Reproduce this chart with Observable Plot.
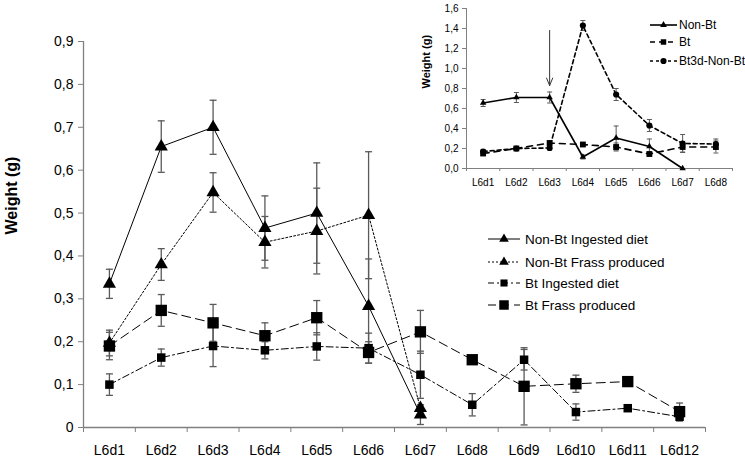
<!DOCTYPE html>
<html><head><meta charset="utf-8">
<script src="https://cdn.jsdelivr.net/npm/d3@7"></script>
<script src="https://cdn.jsdelivr.net/npm/@observablehq/plot@0.6"></script>
<style>
body{margin:0;background:#fff;font-family:"Liberation Sans",Arial,sans-serif;}
#wrap{position:relative;width:745px;height:458px;overflow:hidden;background:#fff;}
#wrap svg{position:absolute;}
</style></head><body><div id="wrap"></div>
<script>
// ---------- main chart data ----------
const days = ["L6d1","L6d2","L6d3","L6d4","L6d5","L6d6","L6d7","L6d8","L6d9","L6d10","L6d11","L6d12"];
const yTickValues = [0,0.1,0.2,0.3,0.4,0.5,0.6,0.7,0.8,0.9];
const nonBtIngested    = [0.335,0.655,0.700,0.465,0.500,0.283,0.030];
const nonBtIngestedErr = [0.034,0.060,0.063,0.075,0.117,0.110,0.023];
const nonBtFrass       = [0.197,0.380,0.548,0.432,0.458,0.495,0.045];
const nonBtFrassErr    = [0.030,0.037,0.046,0.060,0.100,0.148,0.008];
const btIngested       = [0.100,0.163,0.190,0.180,0.189,0.185,0.123,0.053,0.158,0.036,0.045,0.025];
const btIngestedErr    = [0.025,0.020,0.048,0.020,0.032,0.035,0.055,0.026,0.024,0.019,0.004,0.010];
const btFrass          = [0.190,0.273,0.244,0.214,0.256,0.175,0.223,0.158,0.096,0.102,0.107,0.037];
const btFrassErr       = [0.032,0.037,0.043,0.030,0.040,0.025,0.050,0.010,0.090,0.020,0.004,0.020];
const legendLabels = ["Non-Bt Ingested diet","Non-Bt Frass produced","Bt Ingested diet","Bt Frass produced"];
const yTitle = "Weight (g)";

// ---------- inset data ----------
const insetDays = ["L6d1","L6d2","L6d3","L6d4","L6d5","L6d6","L6d7","L6d8"];
const insetYTicks = [0,0.2,0.4,0.6,0.8,1.0,1.2,1.4,1.6];
const insetNonBt    = [0.655,0.710,0.710,0.115,0.305,0.220,0.000];
const insetNonBtErr = [0.035,0.050,0.055,0.020,0.120,0.075,0.000];
const insetBt       = [0.150,0.200,0.255,0.240,0.215,0.145,0.215,0.215];
const insetBtErr    = [0.020,0.015,0.020,0.020,0.040,0.020,0.050,0.060];
const insetBt3d     = [0.170,0.200,0.205,1.430,0.740,0.430,0.250,0.245];
const insetBt3dErr  = [0.020,0.015,0.020,0.050,0.060,0.060,0.090,0.050];
const insetLegendLabels = ["Non-Bt","Bt","Bt3d-Non-Bt"];
const insetArrow = [{day:"L6d3", from:1.38, to:0.83}];

// ---------- helpers ----------
const comma = d => d3.format(".1f")(d).replace(".", ",");
const fmtMain = d => d === 0 ? "0" : comma(d);
function recs(cats, values, errs){ return values.map((v,i)=>({x:i+1, day:cats[i], v, e:errs[i]})); }
function capSymbol(w){ return {draw(ctx){ ctx.moveTo(-w,0); ctx.lineTo(w,0); }}; }
const GRAY = "#808080", ERR = "#5a5a5a";

function seriesMarks(s, cap, errW){
  const ends = s.data.filter(d=>d.e>0).flatMap(d=>[{x:d.x, y:d.v-d.e},{x:d.x, y:d.v+d.e}]);
  return {
    err: [
      Plot.ruleX(s.data.filter(d=>d.e>0), {x:"x", y1:d=>d.v-d.e, y2:d=>d.v+d.e, stroke:ERR, strokeWidth:errW}),
      Plot.dot(ends, {x:"x", y:"y", symbol:cap, fill:"none", stroke:ERR, strokeWidth:errW})
    ],
    line: Plot.line(s.data, {x:"x", y:"v", stroke:"#000", strokeWidth:s.w, strokeDasharray:s.dash}),
    dot: Plot.dot(s.data, {x:"x", y:"v", symbol:s.symbol, r:s.r, fill:"#000", stroke:"none"})
  };
}

// ---------- main chart ----------
const mainSeries = [
  {data:recs(days, nonBtIngested, nonBtIngestedErr), symbol:"triangle", r:4.9, dash:null, w:1},
  {data:recs(days, nonBtFrass, nonBtFrassErr), symbol:"triangle", r:4.9, dash:"2,2", w:1},
  {data:recs(days, btIngested, btIngestedErr), symbol:"square", r:4.8, dash:"7,3,2,3", w:1},
  {data:recs(days, btFrass, btFrassErr), symbol:"square", r:6.4, dash:"9,5", w:1}
];
const mm = mainSeries.map(s=>seriesMarks(s, capSymbol(3.5), 1.3));

const main = Plot.plot({
  width:745, height:458,
  marginLeft:83, marginRight:40, marginTop:41, marginBottom:31,
  style:{fontFamily:"Liberation Sans, Arial, sans-serif", background:"transparent", color:"#000"},
  x:{type:"linear", domain:[0.5, 12.5]},
  y:{domain:[0,0.9]},
  marks:[
    Plot.axisY({ticks:yTickValues, tickFormat:fmtMain, tickSize:5, tickPadding:5, fontSize:14, stroke:GRAY, label:null}),
    Plot.axisX({ticks:d3.range(1,13), tickFormat:i=>days[i-1], tickSize:0, tickPadding:18, fontSize:14, label:null}),
    Plot.axisX({ticks:d3.range(0.5,13,1), tickFormat:()=>"", tickSize:5, stroke:GRAY, label:null}),
    Plot.ruleY([0], {stroke:GRAY, strokeWidth:1.3}),
    Plot.ruleX([0.5], {stroke:GRAY, strokeWidth:1.3}),
    Plot.text([yTitle], {frameAnchor:"left", text:d=>d, rotate:-90, dx:-72, fontSize:16, fontWeight:"bold"}),
    ...mm.flatMap(m=>m.err),
    ...mm.map(m=>m.line),
    ...mm.map(m=>m.dot)
  ]
});
main.style.left = "0px"; main.style.top = "0px";
document.getElementById("wrap").appendChild(main);

// ---------- inset chart ----------
const insetSeries = [
  {data:recs(insetDays, insetNonBt, insetNonBtErr), symbol:"triangle", r:2.4, dash:null, w:1.6},
  {data:recs(insetDays, insetBt, insetBtErr), symbol:"square", r:3.3, dash:"6,5", w:1.6},
  {data:recs(insetDays, insetBt3d, insetBt3dErr), symbol:"circle", r:3.1, dash:"4,3", w:1.6}
];
const im = insetSeries.map(s=>seriesMarks(s, capSymbol(2.5), 1));
const arrowData = insetArrow.map(a=>({x:insetDays.indexOf(a.day)+1, y1:a.from, y2:a.to}));

const inset = Plot.plot({
  width:335, height:195,
  marginLeft:56, marginRight:13, marginTop:8, marginBottom:27,
  style:{fontFamily:"Liberation Sans, Arial, sans-serif", background:"#fff", color:"#000"},
  x:{type:"linear", domain:[0.5, 8.5]},
  y:{domain:[0,1.6]},
  marks:[
    Plot.axisY({ticks:insetYTicks, tickFormat:comma, tickSize:4, tickPadding:4, fontSize:10, stroke:GRAY, label:null}),
    Plot.axisX({ticks:d3.range(1,9), tickFormat:i=>insetDays[i-1], tickSize:0, tickPadding:10, fontSize:10, label:null}),
    Plot.axisX({ticks:d3.range(0.5,9,1), tickFormat:()=>"", tickSize:3, stroke:GRAY, label:null}),
    Plot.ruleY([0], {stroke:GRAY}),
    Plot.ruleX([0.5], {stroke:GRAY}),
    Plot.text([yTitle], {frameAnchor:"left", text:d=>d, rotate:-90, dx:-40, fontSize:11, fontWeight:"bold"}),
    ...im.flatMap(m=>m.err),
    ...im.map(m=>m.line),
    ...im.map(m=>m.dot),
    Plot.arrow(arrowData, {x1:"x", x2:"x", y1:"y1", y2:"y2", stroke:"#333", strokeWidth:1, headLength:12, headAngle:45})
  ]
});
inset.style.left = "410px"; inset.style.top = "0px";
document.getElementById("wrap").appendChild(inset);

// ---------- legends ----------
const ov = d3.select("#wrap").append("svg")
  .attr("width",745).attr("height",458).style("left","0px").style("top","0px");
function legendRows(g, labels, styles, x0, x1, ys, fs, tx){
  labels.forEach((lab,i)=>{
    const st = styles[i], y = ys[i];
    g.append("line").attr("x1",x0).attr("x2",x1).attr("y1",y).attr("y2",y)
      .attr("stroke","#000").attr("stroke-width",st.w).attr("stroke-dasharray",st.dash);
    g.append("path").attr("d", d3.symbol(st.sym, st.size)())
      .attr("transform",`translate(${(x0+x1)/2},${y})`).attr("fill","#000");
    g.append("text").attr("x",tx).attr("y",y).attr("dy","0.35em")
      .attr("font-size",fs).attr("font-family","Liberation Sans, Arial, sans-serif").text(lab);
  });
}
legendRows(ov, legendLabels, [
  {w:1, dash:null, sym:d3.symbolTriangle, size:40},
  {w:1, dash:"2,2", sym:d3.symbolTriangle, size:40},
  {w:1, dash:"6,3,2,3", sym:d3.symbolSquare, size:50},
  {w:1, dash:"8,5", sym:d3.symbolSquare, size:90}
], 488, 520, [239,262,283,305], 13.5, 525);
legendRows(ov, insetLegendLabels, [
  {w:1.6, dash:null, sym:d3.symbolTriangle, size:20},
  {w:1.6, dash:"5,4", sym:d3.symbolSquare, size:30},
  {w:1.6, dash:"3,3", sym:d3.symbolCircle, size:30}
], 650, 677, [25,42,61], 12, 679);
</script></body></html>
